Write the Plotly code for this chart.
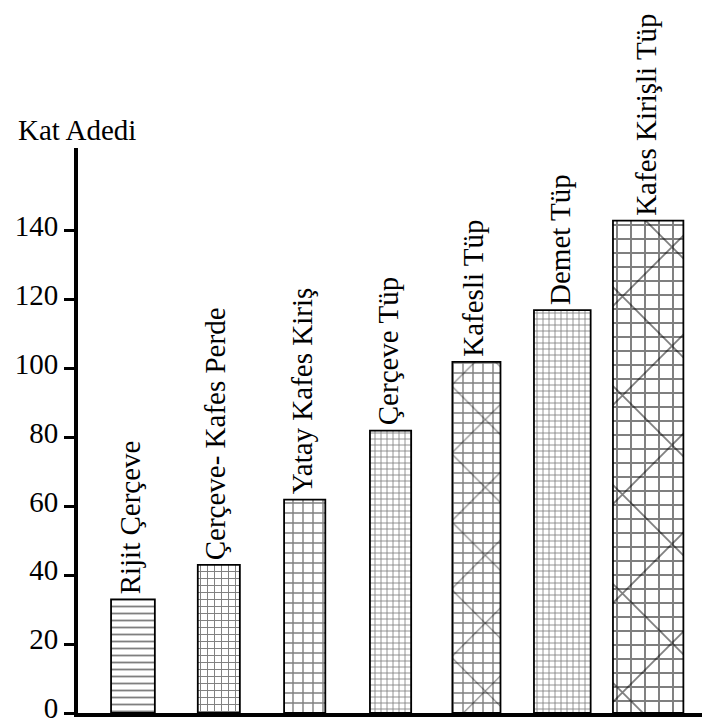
import plotly.graph_objects as go

# Data
categories = ["Rijit Çerçeve", "Çerçeve- Kafes Perde", "Yatay Kafes Kiriş",
              "Çerçeve Tüp", "Kafesli Tüp", "Demet Tüp", "Kafes Kirişli Tüp"]
kat_adedi = [33, 43, 62, 82, 102, 117, 143]
y_ticks = [0, 20, 40, 60, 80, 100, 120, 140]

# Styling (not data)
bar_widths = [0.51, 0.49, 0.48, 0.48, 0.56, 0.66, 0.82]
grid_shapes = ["-", "+", "+", "+", "+", "+", "+"]
grid_sizes = [7, 7, 10, 6, 10, 6, 14]
diag_shapes = ["", "", "", "", "x", "", "x"]
diag_sizes = [10, 10, 10, 10, 48, 10, 70]

FONT = "Liberation Serif, Times New Roman, serif"

fig = go.Figure()
fig.add_trace(go.Bar(
    x=categories, y=kat_adedi, width=bar_widths,
    marker=dict(
        color="white",
        line=dict(color="black", width=1.8),
        pattern=dict(shape=grid_shapes, size=grid_sizes, solidity=0.26,
                     fgcolor="black", bgcolor="white"),
    ),
    hoverinfo="skip", showlegend=False,
))
fig.add_trace(go.Bar(
    x=categories, y=kat_adedi, width=bar_widths,
    marker=dict(
        color="rgba(0,0,0,0)",
        line=dict(width=0),
        pattern=dict(shape=diag_shapes, size=diag_sizes, solidity=0.05,
                     fgcolor="black", bgcolor="rgba(0,0,0,0)"),
    ),
    hoverinfo="skip", showlegend=False,
))

for cat, val in zip(categories, kat_adedi):
    fig.add_annotation(x=cat, y=val, text=cat, textangle=-90, showarrow=False,
                       xanchor="center", yanchor="bottom", yshift=3, xshift=-3,
                       font=dict(family=FONT, size=29, color="black"))

fig.add_annotation(xref="paper", yref="paper", x=-0.098, y=1.032, text="Kat Adedi",
                   showarrow=False, xanchor="left", yanchor="middle",
                   font=dict(family=FONT, size=29, color="black"))

fig.update_layout(
    width=702, height=718,
    margin=dict(l=70, r=0, t=140, b=13, autoexpand=False),
    paper_bgcolor="white", plot_bgcolor="white",
    barmode="overlay",
    xaxis=dict(range=[-0.64, 6.72], showticklabels=False, showgrid=False,
               zeroline=False, showline=True, linecolor="black", linewidth=4,
               ticks="", automargin=False),
    yaxis=dict(range=[0, 164.1], tickvals=y_ticks, showgrid=False, zeroline=False,
               showline=True, linecolor="black", linewidth=4,
               ticks="outside", ticklen=10, tickwidth=3, tickcolor="black",
               ticklabeloverflow="allow", automargin=False, ticklabelshift=-5,
               tickfont=dict(family=FONT, size=29, color="black")),
)

fig.write_html("out.html")
